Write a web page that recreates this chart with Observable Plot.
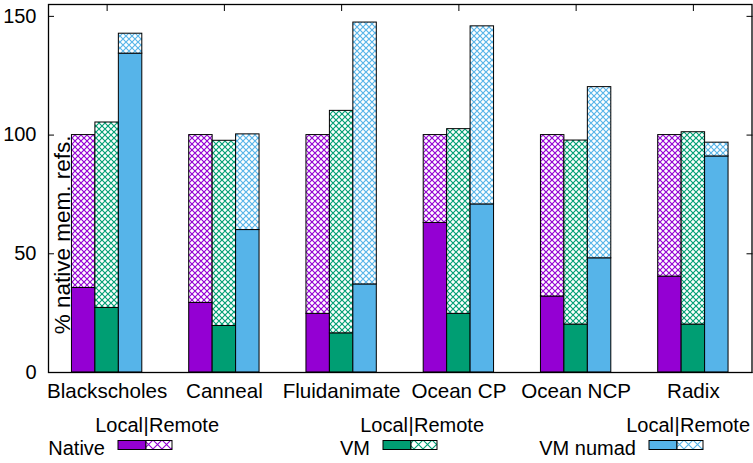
<!DOCTYPE html>
<html>
<head>
<meta charset="utf-8">
<script src="https://cdn.jsdelivr.net/npm/d3@7"></script>
<script src="https://cdn.jsdelivr.net/npm/@observablehq/plot@0.6"></script>
<style>
  html, body { margin: 0; padding: 0; background: #fff; }
  body { width: 753px; font-family: "Liberation Sans", Arial, Helvetica, sans-serif; }
  svg { display: block; }
</style>
</head>
<body>
<script>
// Benchmarks and memory-reference breakdown (% of native references)
const categories = ["Blackscholes", "Canneal", "Fluidanimate", "Ocean CP", "Ocean NCP", "Radix"];
const seriesNames = ["Native", "VM", "VM numad"];
const seriesColors = ["#9400d3", "#009e73", "#56b4e9"];

const nativeLocal  = [35.6, 29.3, 24.7, 63.0, 32.0, 40.4];
const nativeRemote = [64.4, 70.7, 75.3, 37.0, 68.0, 59.6];
const vmLocal      = [27.2, 19.6, 16.5, 24.7, 20.2, 20.2];
const vmRemote     = [78.1, 78.0, 93.7, 77.8, 77.5, 81.0];
const numadLocal   = [134.3, 60.0, 37.1, 70.8, 48.1, 91.0];
const numadRemote  = [8.4, 40.3, 110.3, 75.0, 72.1, 5.8];

const yTicks = [0, 50, 100, 150];
const yLabel = "% native mem. refs.";
const splitLabel = ["Local", "|", "Remote"];

const localSeries = [nativeLocal, vmLocal, numadLocal];
const remoteSeries = [nativeRemote, vmRemote, numadRemote];

// Each benchmark group takes 0.6 of a category slot, three bars of 0.2 each
const barWidth = 0.2;
const groupWidth = barWidth * seriesNames.length;

const marks = [];
seriesNames.forEach((name, k) => {
  const rows = categories.map((cat, i) => ({
    cat,
    x1: i - groupWidth / 2 + k * barWidth,
    x2: i - groupWidth / 2 + (k + 1) * barWidth,
    local: localSeries[k][i],
    total: localSeries[k][i] + remoteSeries[k][i]
  }));
  marks.push(Plot.rectY(rows, {x1: "x1", x2: "x2", y1: 0, y2: "local",
    fill: seriesColors[k], stroke: "black", strokeWidth: 1}));
  marks.push(Plot.rectY(rows, {x1: "x1", x2: "x2", y1: "local", y2: "total",
    fill: `url(#hatch-${k})`, stroke: "black", strokeWidth: 1}));
});

const catIndex = categories.map((_, i) => i);

const chart = Plot.plot({
  width: 753,
  height: 404,
  marginTop: 4,
  marginBottom: 32,
  marginLeft: 48,
  marginRight: 1.5,
  x: {type: "linear", domain: [-0.5, categories.length - 0.5]},
  y: {domain: [0, 155]},
  style: {fontFamily: "'Liberation Sans', Arial, Helvetica, sans-serif", fontSize: "20px", color: "black", background: "white"},
  marks: [
    ...marks,
    // axis labels
    Plot.axisY({anchor: "left", ticks: yTicks, tickSize: 0, tickPadding: 12, label: null}),
    Plot.axisX({anchor: "bottom", ticks: catIndex, tickSize: 0, tickPadding: 11, label: null,
      fontSize: 20.6, tickFormat: i => categories[i]}),
    // inward ticks on every side that shows them
    Plot.axisY({anchor: "left", ticks: yTicks, tickSize: 6, dx: 6, fill: "none", stroke: "black"}),
    Plot.axisY({anchor: "right", ticks: yTicks, tickSize: 6, dx: -6, fill: "none", stroke: "black"}),
    Plot.axisX({anchor: "top", ticks: catIndex, tickSize: 6, dy: 6, fill: "none", stroke: "black"}),
    Plot.text([yLabel], {text: d => d, frameAnchor: "left", y: [58], dx: 14, rotate: -90,
      textAnchor: "middle", fontSize: 22.5}),
    Plot.frame({stroke: "black", strokeWidth: 1.3})
  ]
});

// Cross-hatch fills for the remote portions
const defs = d3.select(chart).insert("defs", ":first-child");
function addHatch(sel, id, color, size, width) {
  const p = sel.append("pattern").attr("id", id)
    .attr("patternUnits", "userSpaceOnUse").attr("width", size).attr("height", size);
  p.append("rect").attr("width", size).attr("height", size).attr("fill", "white");
  p.append("path")
    .attr("d", `M-1,-1L${size + 1},${size + 1}M${size + 1},-1L-1,${size + 1}`)
    .attr("stroke", color).attr("stroke-width", width).attr("fill", "none");
}
seriesColors.forEach((c, k) => addHatch(defs, `hatch-${k}`, c, 6, 1.15));
document.body.appendChild(chart);

// Key below the plot: name, then a Local|Remote sample box
const keyBoxLeft = [118, 383, 649];
const keyBoxWidth = 54;
const keySolidWidth = 28;
const key = d3.create("svg").attr("width", 753).attr("height", 59)
  .style("font-family", "'Liberation Sans', Arial, Helvetica, sans-serif")
  .style("font-size", "20px");
const keyDefs = key.append("defs");
seriesColors.forEach((c, k) => addHatch(keyDefs, `key-hatch-${k}`, c, 9, 1.1));
seriesNames.forEach((name, k) => {
  const x0 = keyBoxLeft[k];
  const split = x0 + keySolidWidth;
  const g = key.append("g");
  g.append("text").attr("x", split - 3).attr("y", 28).attr("text-anchor", "end").text(splitLabel[0]);
  g.append("text").attr("x", split).attr("y", 28).attr("text-anchor", "middle").text(splitLabel[1]);
  g.append("text").attr("x", split + 3).attr("y", 28).attr("text-anchor", "start").text(splitLabel[2]);
  g.append("text").attr("x", x0 - 13).attr("y", 51).attr("text-anchor", "end").text(name);
  g.append("rect").attr("x", x0).attr("y", 36.5).attr("width", keySolidWidth).attr("height", 9)
    .attr("fill", seriesColors[k]).attr("stroke", "black");
  g.append("rect").attr("x", split).attr("y", 36.5).attr("width", keyBoxWidth - keySolidWidth).attr("height", 9)
    .attr("fill", `url(#key-hatch-${k})`).attr("stroke", "black");
});
document.body.appendChild(key.node());
</script>
</body>
</html>
